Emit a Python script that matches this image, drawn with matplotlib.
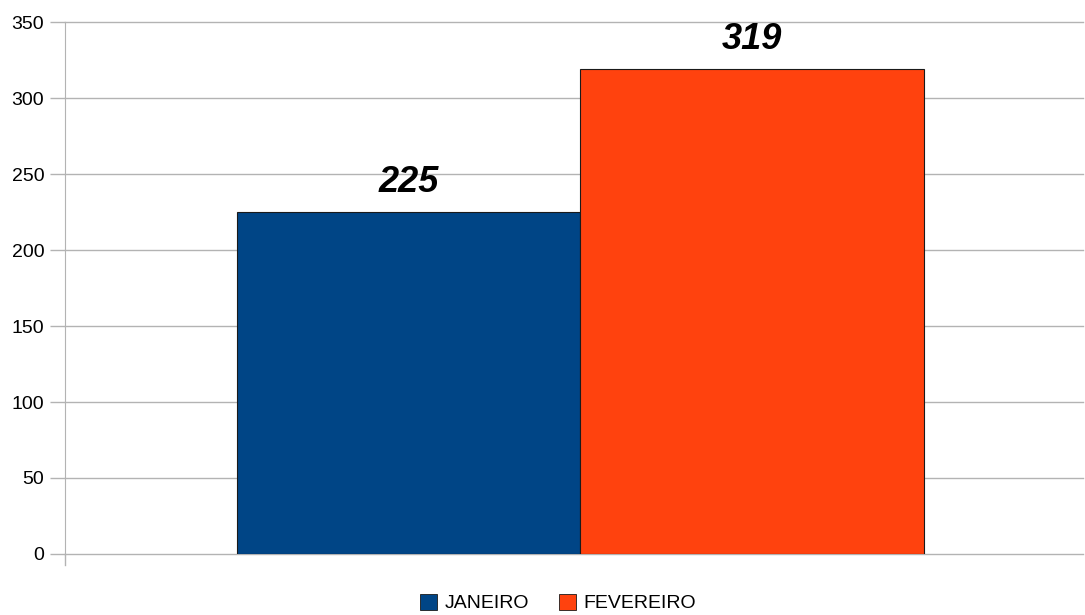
import matplotlib
matplotlib.use("Agg")
import matplotlib.pyplot as plt
from matplotlib.patches import Patch

plt.rcParams['font.family'] = ['Liberation Sans', 'DejaVu Sans']

# data
months = ["JANEIRO", "FEVEREIRO"]
values = [225, 319]
colors = ["#004586", "#ff420e"]
yticks = [0, 50, 100, 150, 200, 250, 300, 350]

fig = plt.figure(figsize=(10.85, 6.15), dpi=100)
ax = fig.add_axes([65 / 1085, 61 / 615, 1018 / 1085, 532 / 615])

ax.bar([0, 1], values, width=1.0, color=colors, edgecolor="#1a1a1a", linewidth=0.8, zorder=3)
for i, v in enumerate(values):
    ax.text(i, v + 8, str(v), ha="center", va="bottom", fontsize=26,
            fontweight="bold", fontstyle="italic", zorder=4)

ax.set_xlim(-1.0, 1.963)
ax.set_ylim(0, 350)
ax.set_yticks(yticks)
ax.set_xticks([])
ax.tick_params(axis="y", length=11, width=1, color="#b3b3b3", labelsize=14, pad=4)
ax.grid(axis="y", color="#b3b3b3", linewidth=1, zorder=0)
for gl in ax.get_ygridlines():
    gl.set_clip_on(False)
for s in ["top", "right", "bottom"]:
    ax.spines[s].set_visible(False)
ax.spines["left"].set_color("#b3b3b3")
ax.plot([0, 0], [0, -0.021], transform=ax.transAxes, color="#b3b3b3", lw=1, clip_on=False)

handles = [Patch(facecolor=c, edgecolor="#1a1a1a", linewidth=0.6) for c in colors]
fig.legend(handles, months, loc="center", bbox_to_anchor=(558 / 1085, 1 - 603 / 615),
           ncol=2, frameon=False, fontsize=14, handlelength=0.9, handleheight=0.9,
           handletextpad=0.4, columnspacing=1.5, borderpad=0)

fig.savefig("out.png", dpi=100)
